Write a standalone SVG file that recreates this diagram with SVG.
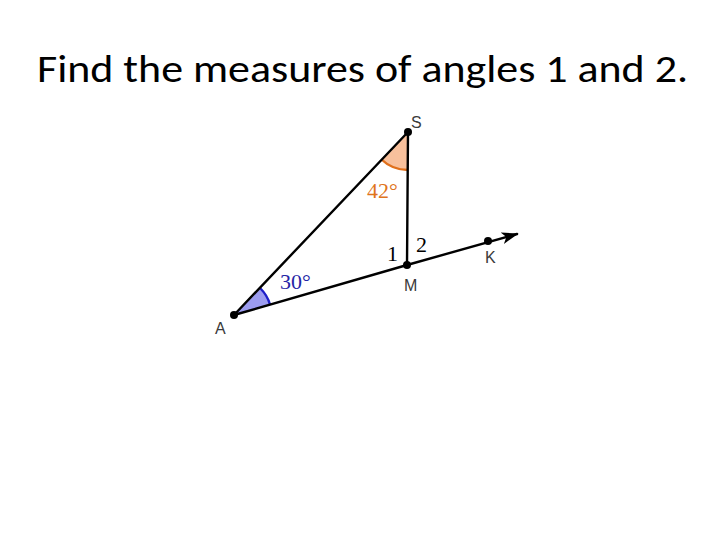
<svg xmlns="http://www.w3.org/2000/svg" width="720" height="540" viewBox="0 0 720 540">
<style>
.seg{stroke:#000;stroke-width:2.4;fill:none;stroke-linecap:round}
.pt{fill:#000}
.lbl{font-family:"Liberation Sans","DejaVu Sans",sans-serif;font-size:16px;fill:#3a3a3a}
.num{font-family:"Liberation Serif","DejaVu Serif",serif;font-size:22px}
</style>
<defs>
<marker id="arr" viewBox="0 0 10 10" refX="9" refY="5" markerWidth="17" markerHeight="17" markerUnits="userSpaceOnUse" orient="auto">
<path d="M0,1.5 L10,5 L0,8.5 L2.5,5 Z" fill="#000"/>
</marker>
</defs>
<rect width="720" height="540" fill="#fff"/>
<text x="37" y="82" font-family="Carlito,'Liberation Sans',sans-serif" font-size="38" textLength="651" lengthAdjust="spacingAndGlyphs" fill="#000">Find the measures of angles 1 and 2.</text>
<g id="angles">
<path d="M408,132 L381.5,159.5 A38,38 0 0 0 408,170 Z" fill="#f8c09c" stroke="none"/>
<path d="M381.5,159.5 A38,38 0 0 0 408,170" fill="none" stroke="#e0701c" stroke-width="2.4"/>
<path d="M234,315 L260.5,288.5 A37.5,37.5 0 0 1 270,304.5 Z" fill="#9c9cf0" stroke="none"/>
<path d="M260.5,288.5 A37.5,37.5 0 0 1 270,304.5" fill="none" stroke="#1e1ec8" stroke-width="2.4"/>
</g>
<g id="connectors">
<line class="seg" x1="234" y1="315" x2="408" y2="132"/>
<line class="seg" x1="408" y1="132" x2="407" y2="265"/>
<line class="seg" x1="234" y1="315" x2="407" y2="265"/>
<path class="seg" d="M407,265 L517,234" marker-end="url(#arr)"/>
</g>
<g id="S"><circle class="pt" cx="408" cy="132" r="4"/><text class="lbl" x="411" y="128">S</text></g>
<g id="A"><circle class="pt" cx="234" cy="315" r="4"/><text class="lbl" x="215" y="334">A</text></g>
<g id="M"><circle class="pt" cx="407" cy="265" r="4"/><text class="lbl" x="404" y="291">M</text></g>
<g id="K"><circle class="pt" cx="488" cy="241" r="4"/><text class="lbl" x="485" y="263">K</text></g>
<g id="labels">
<text class="num" x="367" y="198" fill="#e0741c">42°</text>
<text class="num" x="280" y="289" fill="#2626a6">30°</text>
<text class="num" x="387" y="261" fill="#000">1</text>
<text class="num" x="416" y="252" fill="#000">2</text>
</g>
</svg>
